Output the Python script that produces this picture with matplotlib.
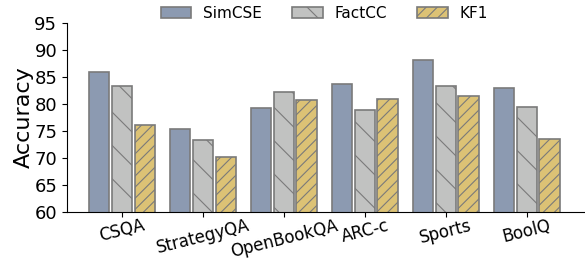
import numpy as np
import matplotlib
matplotlib.use("Agg")
import matplotlib.pyplot as plt

# data
tasks = ["CSQA", "StrategyQA", "OpenBookQA", "ARC-c", "Sports", "BoolQ"]
simcse = [85.8, 75.4, 79.2, 83.6, 88.1, 83.0]
factcc = [83.3, 73.2, 82.2, 78.9, 83.3, 79.3]
kf1 = [76.1, 70.1, 80.7, 80.9, 81.5, 73.5]

plt.rcParams['hatch.color'] = '#7a7a7a'
plt.rcParams['hatch.linewidth'] = 0.8

fig = plt.figure(figsize=(5.85, 2.64), dpi=100)
ax = fig.add_axes([0.1145, 0.198, 0.8855, 0.716])

x = np.arange(len(tasks))
w = 0.25
off = 0.28
ax.bar(x - off, simcse, w, color='#8c9ab1', edgecolor='#7a7a7a', linewidth=1.2, label='SimCSE')
ax.bar(x, factcc, w, color='#c1c2c1', edgecolor='#7a7a7a', linewidth=1.2, hatch='\\', label='FactCC')
ax.bar(x + off, kf1, w, color='#dcc275', edgecolor='#7a7a7a', linewidth=1.2, hatch='///', label='KF1')

ax.set_ylim(60, 95)
ax.set_yticks(range(60, 96, 5))
ax.set_xlim(-0.68, 5.72)
ax.set_xticks(x)
ax.set_xticklabels(tasks, rotation=14, fontsize=12)
ax.tick_params(axis='x', pad=0)
ax.tick_params(axis='y', labelsize=13)
ax.set_ylabel('Accuracy', fontsize=16)
ax.yaxis.set_label_coords(-0.064, 0.5)

ax.spines['top'].set_visible(False)
ax.spines['right'].set_visible(False)

fig.legend(loc='center', bbox_to_anchor=(0.554, 0.95), ncol=3, frameon=False,
           fontsize=11, handlelength=2.0, handletextpad=0.75, columnspacing=2.0)

plt.savefig('out.png', dpi=100)
